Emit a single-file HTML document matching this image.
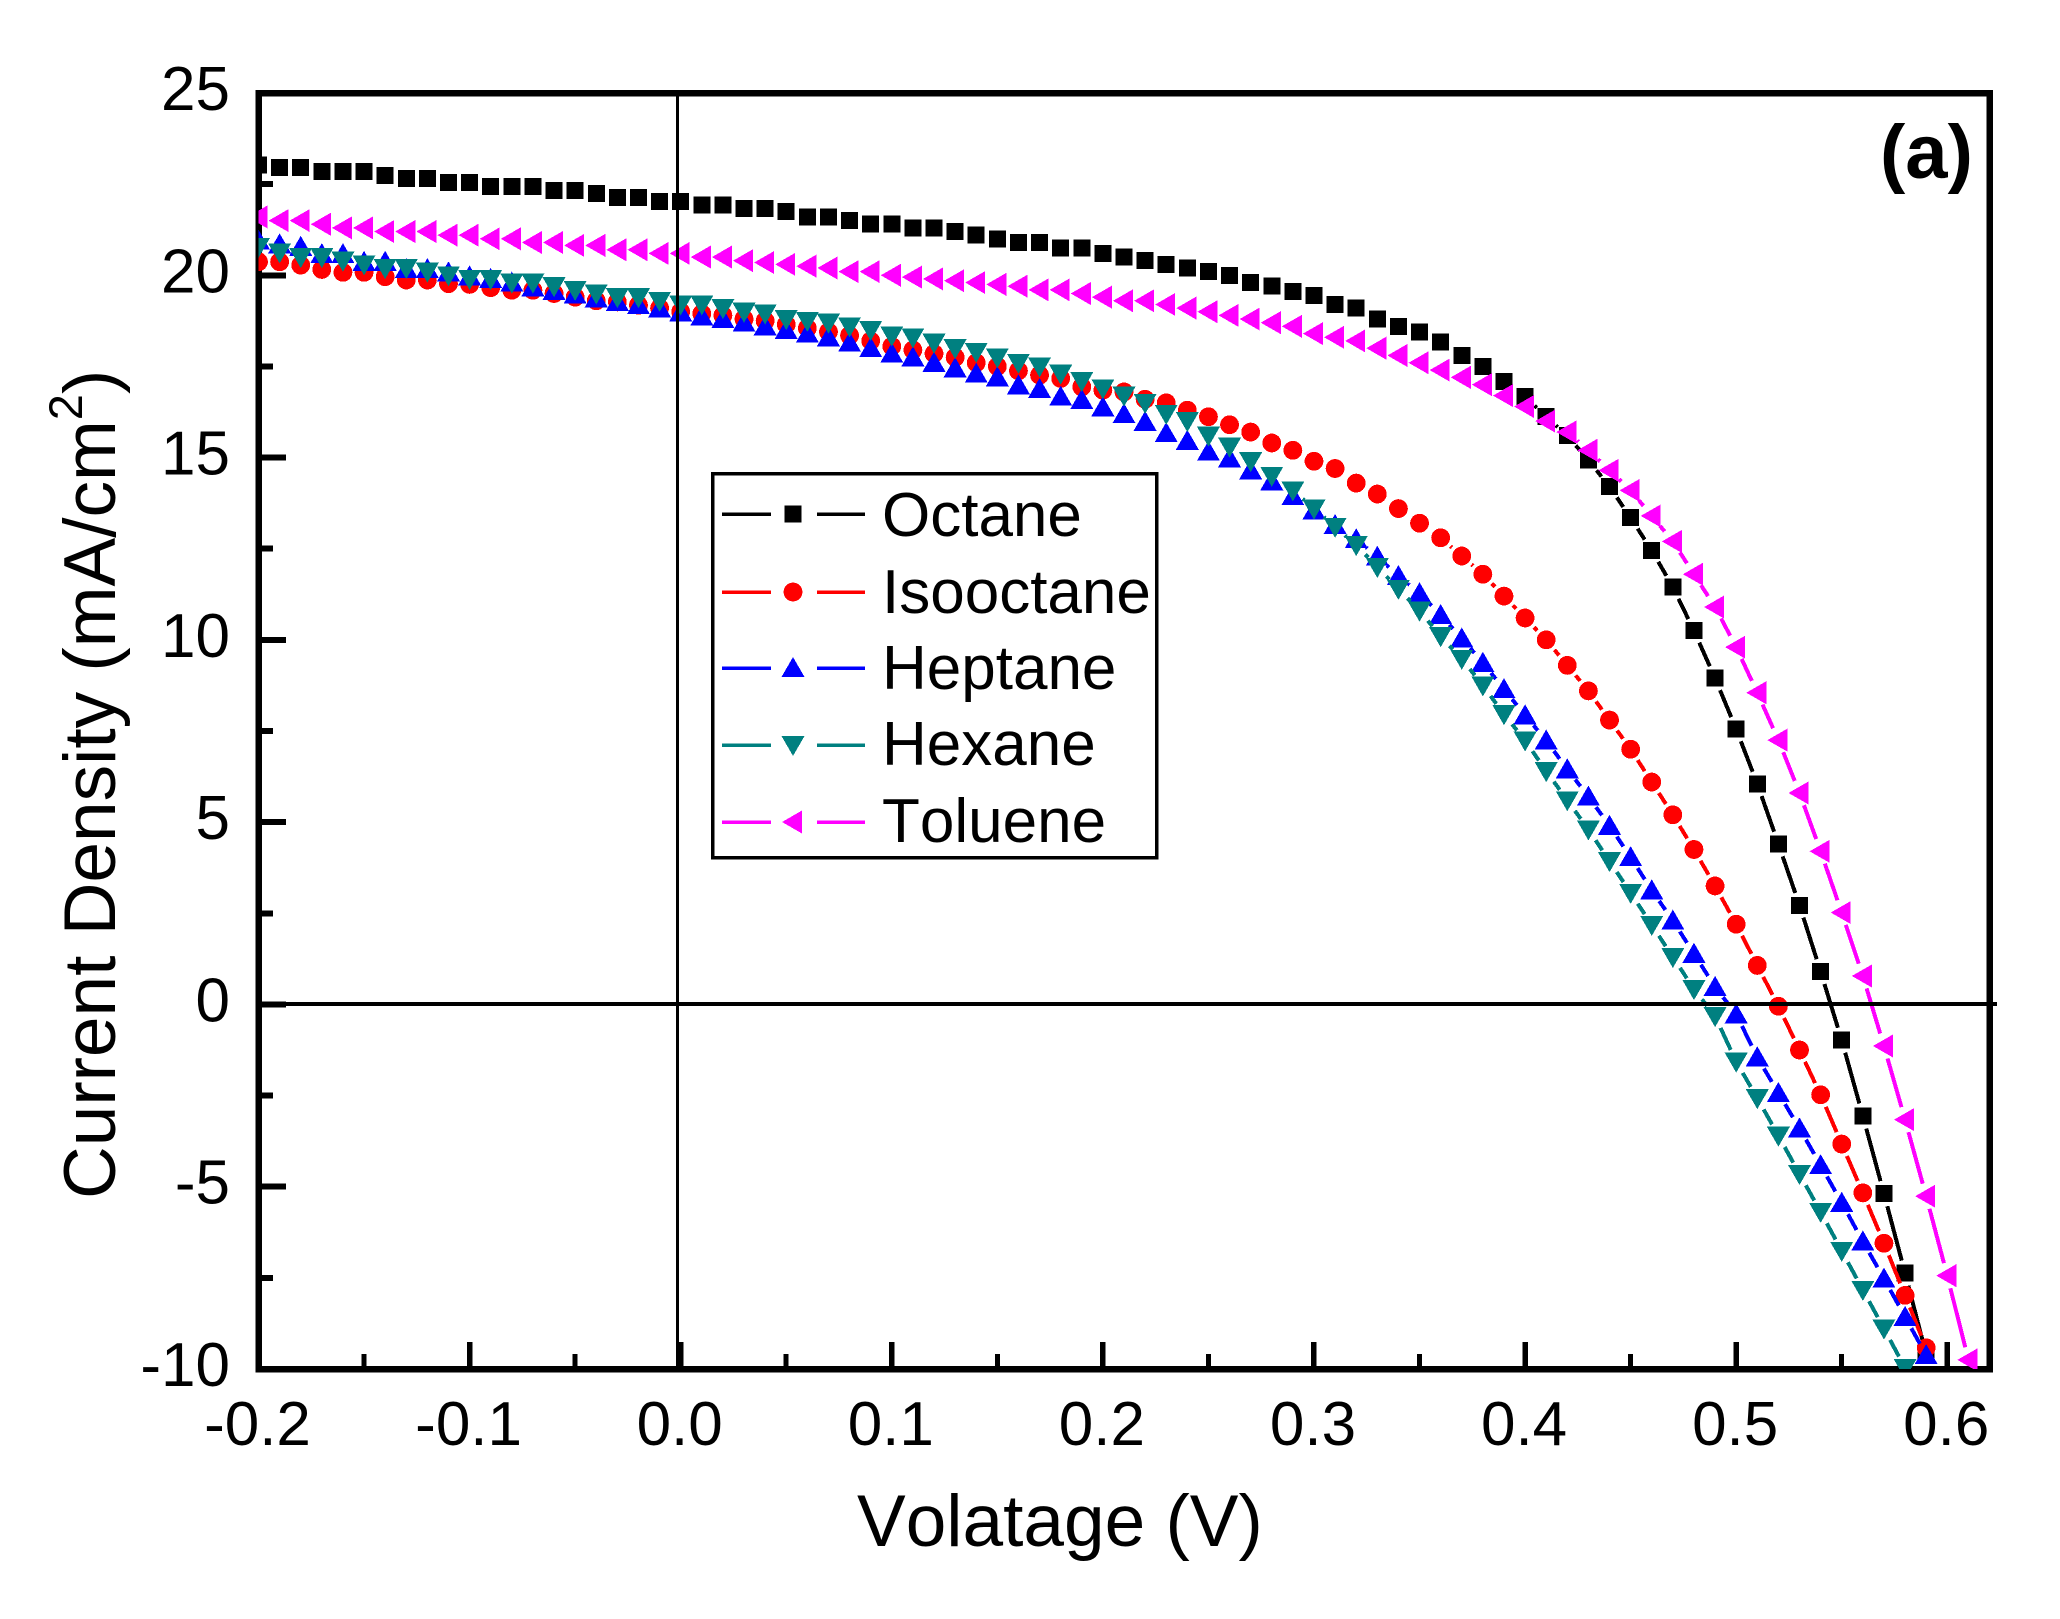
<!DOCTYPE html>
<html lang="en">
<head>
<meta charset="utf-8">
<title>Current density vs voltage</title>
<style>
html,body{margin:0;padding:0;background:#fff;}
body{width:2060px;height:1619px;overflow:hidden;}
svg{display:block;}
text{font-family:"Liberation Sans",sans-serif;fill:#000;font-kerning:none;}
</style>
</head>
<body>
<svg id="chart" xmlns="http://www.w3.org/2000/svg" width="2060" height="1619" viewBox="0 0 2060 1619">
  <defs>
    <clipPath id="plot-clip"><rect x="258.5" y="93" width="1731" height="1276"/></clipPath>
  </defs>
  <rect x="0" y="0" width="2060" height="1619" fill="#fff"/>
  <g id="ticks"></g>
  <rect x="258.5" y="93" width="1731" height="1276" fill="none" stroke="#000" stroke-width="6.5" shape-rendering="crispEdges"/>
  <g id="x-labels" font-size="62" text-anchor="middle"></g>
  <g id="y-labels" font-size="62" text-anchor="end"></g>
  <text x="857" y="1546" font-size="73">Volatage (V)</text>
  <text transform="translate(115 1199) rotate(-90)" font-size="73">Current Density (mA/cm<tspan font-size="47" dy="-33">2</tspan><tspan dy="33">)</tspan></text>
  <text x="1880" y="178" font-size="76" font-weight="bold">(a)</text>
  <g id="series" clip-path="url(#plot-clip)"></g>
  <line x1="677.5" y1="93" x2="677.5" y2="1368" stroke="#000" stroke-width="3" shape-rendering="crispEdges"/>
  <line x1="258" y1="1004" x2="1997" y2="1004" stroke="#000" stroke-width="4" shape-rendering="crispEdges"/>
  <g id="legend">
    <rect x="712.5" y="473.5" width="444" height="384" fill="#fff" stroke="#000" stroke-width="3.5" shape-rendering="crispEdges"/>
  </g>
</svg>
<script>
const voltages = [-0.20,-0.19,-0.18,-0.17,-0.16,-0.15,-0.14,-0.13,-0.12,-0.11,-0.10,-0.09,-0.08,-0.07,-0.06,-0.05,-0.04,-0.03,-0.02,-0.01,0.00,0.01,0.02,0.03,0.04,0.05,0.06,0.07,0.08,0.09,0.10,0.11,0.12,0.13,0.14,0.15,0.16,0.17,0.18,0.19,0.20,0.21,0.22,0.23,0.24,0.25,0.26,0.27,0.28,0.29,0.30,0.31,0.32,0.33,0.34,0.35,0.36,0.37,0.38,0.39,0.40,0.41,0.42,0.43,0.44,0.45,0.46,0.47,0.48,0.49,0.50,0.51,0.52,0.53,0.54,0.55,0.56,0.57,0.58,0.59,0.60,0.61];
const octane = [23.03,22.95,22.95,22.85,22.85,22.85,22.74,22.66,22.66,22.55,22.55,22.44,22.44,22.44,22.33,22.33,22.25,22.14,22.14,22.03,22.03,21.93,21.93,21.83,21.83,21.75,21.6,21.6,21.5,21.4,21.4,21.3,21.3,21.2,21.1,21.0,20.9,20.9,20.75,20.75,20.6,20.5,20.4,20.3,20.2,20.1,20.0,19.8,19.7,19.55,19.45,19.2,19.1,18.8,18.6,18.45,18.17,17.8,17.5,17.08,16.67,16.12,15.6,14.93,14.2,13.35,12.45,11.45,10.25,8.95,7.55,6.05,4.4,2.72,0.9,-0.98,-3.06,-5.19,-7.37,-9.6];
const isooctane = [20.37,20.37,20.28,20.16,20.08,20.08,19.96,19.87,19.87,19.77,19.75,19.66,19.59,19.59,19.5,19.4,19.3,19.27,19.18,19.1,19.0,18.95,18.9,18.8,18.75,18.65,18.55,18.45,18.35,18.2,18.05,17.95,17.85,17.75,17.6,17.5,17.38,17.26,17.17,16.94,16.85,16.8,16.6,16.5,16.3,16.12,15.9,15.7,15.4,15.2,14.9,14.7,14.3,14.0,13.6,13.2,12.8,12.3,11.8,11.2,10.6,10.0,9.3,8.6,7.8,7.0,6.1,5.2,4.25,3.25,2.2,1.07,-0.05,-1.25,-2.48,-3.83,-5.17,-6.55,-7.98,-9.42];
const heptane = [20.95,20.85,20.78,20.58,20.58,20.37,20.37,20.17,20.17,20.08,19.97,19.9,19.8,19.67,19.57,19.47,19.37,19.27,19.18,19.09,18.98,18.87,18.8,18.7,18.6,18.5,18.4,18.3,18.15,18.0,17.85,17.75,17.6,17.45,17.3,17.2,16.98,16.88,16.67,16.58,16.38,16.19,15.98,15.67,15.46,15.16,14.98,14.65,14.35,13.94,13.55,13.15,12.76,12.28,11.75,11.28,10.68,10.04,9.37,8.65,7.93,7.24,6.45,5.7,4.9,4.04,3.13,2.3,1.39,0.48,-0.27,-1.45,-2.43,-3.4,-4.41,-5.44,-6.5,-7.52,-8.57,-9.62];
const hexane = [20.78,20.63,20.5,20.5,20.4,20.3,20.2,20.2,20.1,20.0,19.9,19.9,19.8,19.8,19.7,19.6,19.5,19.4,19.4,19.3,19.2,19.2,19.1,19.0,18.95,18.8,18.75,18.7,18.6,18.5,18.35,18.3,18.15,18.0,17.9,17.75,17.6,17.5,17.3,17.1,16.9,16.7,16.5,16.2,16.0,15.6,15.3,14.9,14.5,14.1,13.6,13.1,12.6,12.0,11.4,10.8,10.1,9.48,8.75,7.96,7.24,6.4,5.6,4.8,3.93,3.06,2.18,1.3,0.42,-0.32,-1.57,-2.57,-3.6,-4.65,-5.69,-6.76,-7.83,-8.89,-9.97];
const toluene = [21.6,21.5,21.5,21.4,21.3,21.3,21.2,21.2,21.2,21.1,21.1,21.0,21.0,20.9,20.9,20.82,20.82,20.7,20.7,20.6,20.6,20.5,20.5,20.4,20.35,20.3,20.25,20.2,20.1,20.1,20.0,19.95,19.9,19.85,19.8,19.75,19.7,19.6,19.6,19.5,19.4,19.3,19.3,19.2,19.1,19.0,18.9,18.8,18.7,18.6,18.4,18.3,18.2,18.0,17.8,17.6,17.4,17.2,17.0,16.7,16.4,16.0,15.7,15.2,14.65,14.1,13.4,12.7,11.8,10.9,9.8,8.55,7.25,5.8,4.2,2.52,0.78,-1.14,-3.16,-5.26,-7.44,-9.75];
const seriesNames = ["Octane","Isooctane","Heptane","Hexane","Toluene"];
const seriesColors = ["#000000","#ff0000","#0000ff","#008080","#ff00ff"];
const seriesSymbols = ["square","circle","up","down","left"];
const xMajorTicks = [-0.2,-0.1,0.0,0.1,0.2,0.3,0.4,0.5,0.6];
const xMinorTicks = [-0.15,-0.05,0.05,0.15,0.25,0.35,0.45,0.55];
const yMajorTicks = [-10,-5,0,5,10,15,20,25];
const yMinorTicks = [-7.5,-2.5,2.5,7.5,12.5,17.5,22.5];
const xTickLabels = ["-0.2","-0.1","0.0","0.1","0.2","0.3","0.4","0.5","0.6"];
const yTickLabels = ["-10","-5","0","5","10","15","20","25"];

const NS = "http://www.w3.org/2000/svg";
const PLOT = {left:258.5,right:1989.5,top:93,bottom:1369};
const X_MIN = -0.2, X_MAX = 0.62, Y_MIN = -10, Y_MAX = 25;
function xScale(v){ return PLOT.left + (v - X_MIN) / (X_MAX - X_MIN) * (PLOT.right - PLOT.left); }
function yScale(v){ return PLOT.bottom - (v - Y_MIN) / (Y_MAX - Y_MIN) * (PLOT.bottom - PLOT.top); }
function make(tag, attrs){
  const el = document.createElementNS(NS, tag);
  for (const k in attrs) el.setAttribute(k, attrs[k]);
  return el;
}
function drawSymbol(parent, kind, cx, cy, color){
  let el;
  if (kind === "square") {
    el = make("rect", {x:cx-8.5, y:cy-8.5, width:17, height:17, fill:color});
  } else if (kind === "circle") {
    el = make("circle", {cx:cx, cy:cy, r:9.4, fill:color});
  } else if (kind === "up") {
    el = make("polygon", {points:[[cx,cy-11],[cx+11.5,cy+9],[cx-11.5,cy+9]].join(" "), fill:color});
  } else if (kind === "down") {
    el = make("polygon", {points:[[cx-11.5,cy-9],[cx+11.5,cy-9],[cx,cy+11]].join(" "), fill:color});
  } else {
    el = make("polygon", {points:[[cx-11,cy],[cx+9,cy-11.5],[cx+9,cy+11.5]].join(" "), fill:color});
  }
  el.setAttribute("shape-rendering", "crispEdges");
  parent.appendChild(el);
  return el;
}

const tickGroup = document.getElementById("ticks");
xMajorTicks.forEach(function(v){
  const t = make("line", {x1:xScale(v), x2:xScale(v), y1:PLOT.bottom, y2:1342, stroke:"#000", "stroke-width":5.5, "shape-rendering":"crispEdges"});
  
  
  tickGroup.appendChild(t);
});
xMinorTicks.forEach(function(v){
  const t = make("line", {x1:xScale(v), x2:xScale(v), y1:PLOT.bottom, y2:1354, stroke:"#000", "stroke-width":5, "shape-rendering":"crispEdges"});
  
  
  tickGroup.appendChild(t);
});
yMajorTicks.forEach(function(v){
  const t = make("line", {x1:PLOT.left, x2:286, y1:yScale(v), y2:yScale(v), stroke:"#000", "stroke-width":6, "shape-rendering":"crispEdges"});
  
  
  tickGroup.appendChild(t);
});
yMinorTicks.forEach(function(v){
  const t = make("line", {x1:PLOT.left, x2:273, y1:yScale(v), y2:yScale(v), stroke:"#000", "stroke-width":6, "shape-rendering":"crispEdges"});
  
  
  tickGroup.appendChild(t);
});

const xLabelGroup = document.getElementById("x-labels");
xMajorTicks.forEach(function(v, i){
  const t = make("text", {x:xScale(v)-1, y:1445});
  t.textContent = xTickLabels[i];
  
  
  xLabelGroup.appendChild(t);
});
const yLabelGroup = document.getElementById("y-labels");
yMajorTicks.forEach(function(v, i){
  const t = make("text", {x:230, y:yScale(v)+17});
  t.textContent = yTickLabels[i];
  
  
  yLabelGroup.appendChild(t);
});

const allSeries = [octane, isooctane, heptane, hexane, toluene];
const seriesGroup = document.getElementById("series");
const GAP = 13;
allSeries.forEach(function(values, s){
  const g = make("g", {});
  
  
  seriesGroup.appendChild(g);
  for (let i = 0; i < values.length - 1; i++) {
    const x1 = xScale(voltages[i]), y1 = yScale(values[i]);
    const x2 = xScale(voltages[i+1]), y2 = yScale(values[i+1]);
    const len = Math.hypot(x2-x1, y2-y1);
    if (len <= GAP * 2 + 0.5) continue;
    const ux = (x2-x1)/len, uy = (y2-y1)/len;
    const seg = make("line", {x1:x1+ux*GAP, y1:y1+uy*GAP, x2:x2-ux*GAP, y2:y2-uy*GAP, stroke:seriesColors[s], "stroke-width":4, "shape-rendering":"crispEdges"});
    
    
    g.appendChild(seg);
  }
  values.forEach(function(val, i){
    const m = drawSymbol(g, seriesSymbols[s], xScale(voltages[i]), yScale(val), seriesColors[s]);
    
    
  });
});

const legend = document.getElementById("legend");
const legendRowLineY = [514,592,668,745,822];
const legendRowTextY = [536,613,689,765,842];
seriesNames.forEach(function(name, s){
  const row = make("g", {});
  
  
  legend.appendChild(row);
  const y = legendRowLineY[s];
  const l1 = make("line", {x1:722, x2:771, y1:y, y2:y, stroke:seriesColors[s], "stroke-width":3.5, "shape-rendering":"crispEdges"});
  
  
  row.appendChild(l1);
  const l2 = make("line", {x1:817, x2:865, y1:y, y2:y, stroke:seriesColors[s], "stroke-width":3.5, "shape-rendering":"crispEdges"});
  
  
  row.appendChild(l2);
  const sym = drawSymbol(row, seriesSymbols[s], 793, y, seriesColors[s]);
  
  
  const label = make("text", {x:882, y:legendRowTextY[s], "font-size":62});
  label.textContent = name;
  
  
  row.appendChild(label);
});
</script>
</body>
</html>
